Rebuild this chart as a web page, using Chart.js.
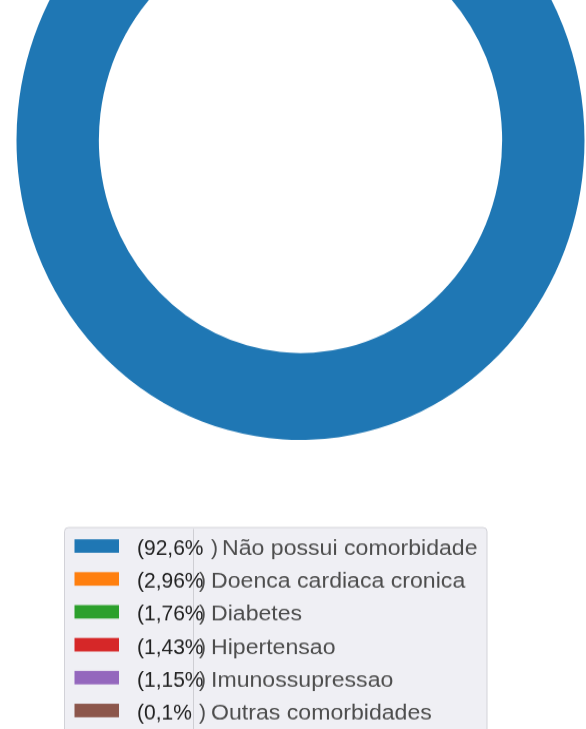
<!DOCTYPE html>
<html><head><meta charset="utf-8">
<script src="https://cdn.jsdelivr.net/npm/chart.js@4.4.1/dist/chart.umd.min.js"></script>
<style>
html,body{margin:0;padding:0;background:#fff;overflow:hidden;width:586px;height:729px;}
#wrap{position:absolute;left:0;top:0;width:586px;height:729px;transform-origin:0 0;transform:scaleY(1.055);}
#c{position:absolute;left:0;top:-151px;}
</style></head><body>
<div id="wrap"><canvas id="c" width="586" height="842"></canvas></div>
<script>
// ---- data ----
const categories = ['Não possui comorbidade','Doenca cardiaca cronica','Diabetes','Hipertensao','Imunossupressao','Outras comorbidades'];
const values = [92.6, 2.96, 1.76, 1.43, 1.15, 0.1];
const percentLabels = ['92,6%','2,96%','1,76%','1,43%','1,15%','0,1%'];

// ---- style / layout ----
const colors = ['#1f77b4','#ff7f0e','#2ca02c','#d62728','#9467bd','#8c564b'];
const STRETCH = 1.055;
const CANVAS_OFFSET = 151;
const PAREN_X = [211,199,199,199,199,199];
const LABEL_X = [222,211,211,211,211,211];
const LABEL_WIDEN = 1.1;

const boxLegend = {
  id: 'boxLegend',
  afterDraw(chart) {
    const ctx = chart.ctx;
    ctx.save();
    ctx.translate(0, CANVAS_OFFSET);
    ctx.scale(1, 1 / STRETCH);
    ctx.beginPath();
    ctx.roundRect(64.5, 527.5, 422.5, 260, 4);
    ctx.fillStyle = '#efeff4';
    ctx.fill();
    ctx.strokeStyle = '#d2d2d8';
    ctx.lineWidth = 1;
    ctx.stroke();
    ctx.beginPath();
    ctx.moveTo(193.5, 529); ctx.lineTo(193.5, 740);
    ctx.strokeStyle = '#cdcdd2';
    ctx.stroke();
    const ds = chart.data.datasets[0];
    chart.data.labels.forEach((lab, i) => {
      const cy = 546 + i * 32.9;
      ctx.fillStyle = ds.backgroundColor[i];
      ctx.fillRect(74.5, cy - 6.75, 44.5, 13.5);
      ctx.font = '21px "Liberation Sans", Arial, sans-serif';
      ctx.textAlign = 'left';
      ctx.textBaseline = 'alphabetic';
      ctx.fillStyle = '#222222';
      ctx.fillText('(' + percentLabels[i], 137, cy + 9);
      ctx.fillStyle = '#4d4d4d';
      ctx.fillText(')', PAREN_X[i], cy + 9);
      ctx.save();
      ctx.translate(LABEL_X[i], cy + 9);
      ctx.scale(LABEL_WIDEN, 1);
      ctx.fillText(lab, 0, 0);
      ctx.restore();
    });
    ctx.restore();
  }
};

new Chart(document.getElementById('c'), {
  type: 'doughnut',
  data: {
    labels: categories,
    datasets: [{ data: values, backgroundColor: colors, borderWidth: 0 }]
  },
  options: {
    responsive: false,
    animation: false,
    cutout: '71%',
    layout: { padding: { left: 16.5, right: 1.5, top: 0, bottom: 274 } },
    plugins: { legend: { display: false }, tooltip: { enabled: false } }
  },
  plugins: [boxLegend]
});
</script>
</body></html>
